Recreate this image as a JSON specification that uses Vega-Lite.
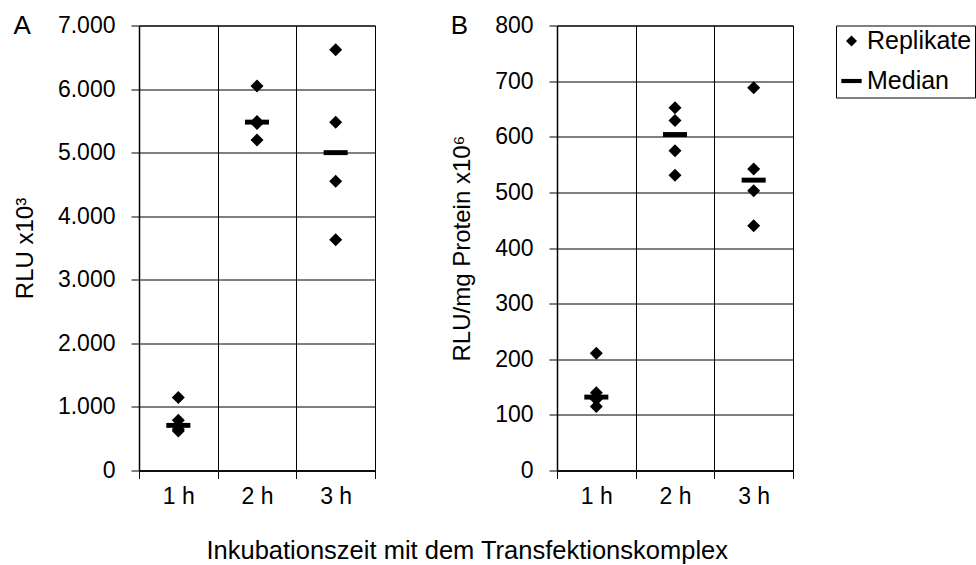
{
  "$schema": "https://vega.github.io/schema/vega-lite/v6.json",
  "background": "white",
  "padding": {"left": 12, "top": 11.5, "right": 0, "bottom": 5},
  "config": {
    "font": "Liberation Sans",
    "view": {"stroke": "black", "strokeWidth": 1},
    "axis": {
      "domainColor": "black",
      "domainWidth": 1.5,
      "tickColor": "black",
      "tickSize": 8,
      "labelColor": "black",
      "labelFontSize": 23,
      "titleFontSize": 24,
      "titleFontWeight": "normal",
      "titleColor": "black",
      "gridColor": "black",
      "gridOpacity": 1,
      "gridWidth": 1
    },
    "title": {"fontWeight": "normal", "color": "black"}
  },
  "datasets": {
    "d": [
      {"panel": "A", "time": "1 h", "type": "Replikate", "value": 1150},
      {"panel": "A", "time": "1 h", "type": "Replikate", "value": 790},
      {"panel": "A", "time": "1 h", "type": "Replikate", "value": 650},
      {"panel": "A", "time": "1 h", "type": "Replikate", "value": 620},
      {"panel": "A", "time": "2 h", "type": "Replikate", "value": 6050},
      {"panel": "A", "time": "2 h", "type": "Replikate", "value": 5490},
      {"panel": "A", "time": "2 h", "type": "Replikate", "value": 5460},
      {"panel": "A", "time": "2 h", "type": "Replikate", "value": 5200},
      {"panel": "A", "time": "3 h", "type": "Replikate", "value": 6620},
      {"panel": "A", "time": "3 h", "type": "Replikate", "value": 5480},
      {"panel": "A", "time": "3 h", "type": "Replikate", "value": 4550},
      {"panel": "A", "time": "3 h", "type": "Replikate", "value": 3630},
      {"panel": "A", "time": "1 h", "type": "Median", "value": 710},
      {"panel": "A", "time": "2 h", "type": "Median", "value": 5480},
      {"panel": "A", "time": "3 h", "type": "Median", "value": 5000},
      {"panel": "B", "time": "1 h", "type": "Replikate", "value": 211},
      {"panel": "B", "time": "1 h", "type": "Replikate", "value": 140},
      {"panel": "B", "time": "1 h", "type": "Replikate", "value": 128},
      {"panel": "B", "time": "1 h", "type": "Replikate", "value": 115},
      {"panel": "B", "time": "2 h", "type": "Replikate", "value": 652},
      {"panel": "B", "time": "2 h", "type": "Replikate", "value": 629},
      {"panel": "B", "time": "2 h", "type": "Replikate", "value": 575},
      {"panel": "B", "time": "2 h", "type": "Replikate", "value": 531},
      {"panel": "B", "time": "3 h", "type": "Replikate", "value": 688},
      {"panel": "B", "time": "3 h", "type": "Replikate", "value": 542},
      {"panel": "B", "time": "3 h", "type": "Replikate", "value": 503},
      {"panel": "B", "time": "3 h", "type": "Replikate", "value": 440},
      {"panel": "B", "time": "1 h", "type": "Median", "value": 132},
      {"panel": "B", "time": "2 h", "type": "Median", "value": 604},
      {"panel": "B", "time": "3 h", "type": "Median", "value": 522}
    ]
  },
  "title": {
    "text": "Inkubationszeit mit dem Transfektionskomplex",
    "orient": "bottom",
    "anchor": "middle",
    "fontSize": 25.5,
    "offset": 30,
    "dx": -27
  },
  "spacing": 74,
  "hconcat": [
    {
      "width": 236,
      "height": 445,
      "title": {"text": "A", "anchor": "start", "frame": "bounds", "fontSize": 26, "offset": -24},
      "data": {"name": "d"},
      "transform": [{"filter": "datum.panel === 'A'"}],
      "mark": {"type": "point", "filled": true, "color": "black", "opacity": 1, "size": 169},
      "encoding": {
        "x": {
          "field": "time", "type": "nominal",
          "scale": {"paddingInner": 0, "paddingOuter": 0},
          "axis": {"title": null, "labelAngle": 0, "tickBand": "extent", "grid": true, "labelPadding": 7}
        },
        "y": {
          "field": "value", "type": "quantitative",
          "scale": {"domain": [0, 7000]},
          "axis": {
            "title": "RLU x10³",
            "values": [0, 1000, 2000, 3000, 4000, 5000, 6000, 7000],
            "labelExpr": "replace(format(datum.value, ','), ',', '.')",
            "labelPadding": 16,
            "titlePadding": 20
          }
        },
        "shape": {
          "field": "type", "type": "nominal",
          "scale": {"domain": ["Replikate", "Median"], "range": ["diamond", "M-1.85,-0.38H1.85V0.38H-1.85Z"]},
          "legend": {
            "title": null,
            "orient": "right",
            "offset": 42,
            "strokeColor": "black",
            "padding": 3,
            "labelFontSize": 25,
            "labelColor": "black",
            "labelOffset": 3,
            "symbolOffset": 0,
            "symbolSize": 121,
            "symbolFillColor": "black",
            "symbolStrokeColor": "black",
            "rowPadding": 14
          }
        }
      }
    },
    {
      "width": 236,
      "height": 445,
      "title": {"text": "B", "anchor": "start", "frame": "bounds", "fontSize": 26, "offset": -24},
      "data": {"name": "d"},
      "transform": [{"filter": "datum.panel === 'B'"}],
      "mark": {"type": "point", "filled": true, "color": "black", "opacity": 1, "size": 169},
      "encoding": {
        "x": {
          "field": "time", "type": "nominal",
          "scale": {"paddingInner": 0, "paddingOuter": 0},
          "axis": {"title": null, "labelAngle": 0, "tickBand": "extent", "grid": true, "labelPadding": 7}
        },
        "y": {
          "field": "value", "type": "quantitative",
          "scale": {"domain": [0, 800]},
          "axis": {
            "title": "RLU/mg Protein x10⁶",
            "values": [0, 100, 200, 300, 400, 500, 600, 700, 800],
            "labelPadding": 16,
            "titlePadding": 20
          }
        },
        "shape": {
          "field": "type", "type": "nominal",
          "scale": {"domain": ["Replikate", "Median"], "range": ["diamond", "M-1.85,-0.38H1.85V0.38H-1.85Z"]},
          "legend": {
            "title": null,
            "orient": "right",
            "offset": 42,
            "strokeColor": "black",
            "padding": 3,
            "labelFontSize": 25,
            "labelColor": "black",
            "labelOffset": 3,
            "symbolOffset": 0,
            "symbolSize": 121,
            "symbolFillColor": "black",
            "symbolStrokeColor": "black",
            "rowPadding": 14
          }
        }
      }
    }
  ]
}
